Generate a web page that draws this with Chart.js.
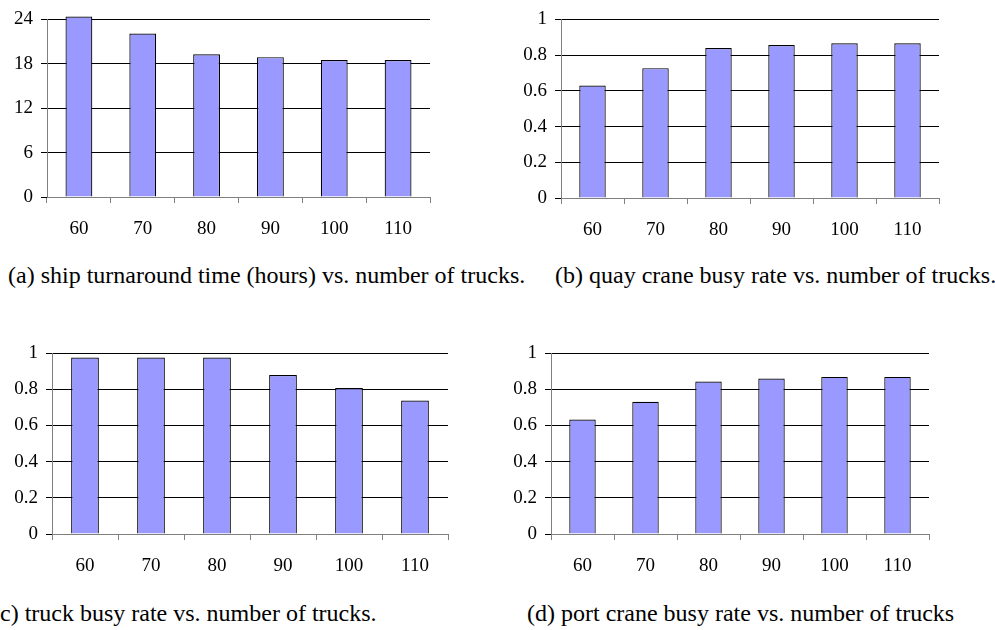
<!DOCTYPE html>
<html>
<head>
<meta charset="utf-8">
<script src="https://cdn.jsdelivr.net/npm/chart.js@4/dist/chart.umd.min.js"></script>
<style>
  body { margin: 0; background: #fff; width: 995px; height: 630px; overflow: hidden; position: relative; }
  canvas { position: absolute; }
  .cap { position: absolute; font-family: "Liberation Serif", "Times New Roman", serif; font-size: 24px; color: #000; white-space: nowrap; line-height: 24px; }
</style>
</head>
<body>
<canvas id="chartA" width="445" height="250" style="left:0;top:0"></canvas>
<canvas id="chartB" width="505" height="250" style="left:490px;top:0"></canvas>
<canvas id="chartC" width="460" height="260" style="left:0;top:330px"></canvas>
<canvas id="chartD" width="505" height="260" style="left:490px;top:330px"></canvas>

<div class="cap" style="left:8px;top:263px">(a) ship turnaround time (hours) vs. number of trucks.</div>
<div class="cap" style="left:555px;top:263px">(b) quay crane busy rate vs. number of trucks.</div>
<div class="cap" style="left:-8px;top:601px">(c) truck busy rate vs. number of trucks.</div>
<div class="cap" style="left:527px;top:601px">(d) port crane busy rate vs. number of trucks</div>

<script>
const trucks = ["60", "70", "80", "90", "100", "110"];
const turnaround = [24.4, 22.1, 19.3, 18.9, 18.5, 18.5];
const quayBusy = [0.63, 0.727, 0.84, 0.857, 0.866, 0.866];
const truckBusy = [0.975, 0.975, 0.975, 0.878, 0.807, 0.737];
const portBusy = [0.633, 0.73, 0.842, 0.859, 0.868, 0.868];

const hourTicks = [0, 6, 12, 18, 24];
const rateTicks = [0, 0.2, 0.4, 0.6, 0.8, 1];

const font = { family: "'Liberation Serif', 'Times New Roman', serif", size: 19 };

function makeChart(id, values, ticks, box) {
  new Chart(document.getElementById(id), {
    type: "bar",
    data: {
      labels: trucks,
      datasets: [{
        data: values,
        backgroundColor: "#9999ff",
        borderColor: "#000",
        borderWidth: 1.2,
        categoryPercentage: 1,
        barPercentage: 0.42,
        clip: false
      }]
    },
    options: {
      responsive: false,
      animation: false,
      layout: { padding: { left: 0, top: box.top, right: box.right, bottom: 0 } },
      plugins: { legend: { display: false }, tooltip: { enabled: false } },
      scales: {
        x: {
          grid: { drawOnChartArea: false, drawTicks: true, tickLength: 6, color: "#808080", offset: true },
          border: { color: "#808080" },
          ticks: { color: "#000", font: font, padding: 15, maxRotation: 0 },
          afterFit: s => { s.height = box.xh; }
        },
        y: {
          min: 0,
          max: ticks[ticks.length - 1],
          afterBuildTicks: s => { s.ticks = ticks.map(v => ({ value: v })); },
          grid: { color: "#000", tickLength: 6 },
          border: { color: "#808080" },
          ticks: { color: "#000", font: font, padding: 8, callback: v => String(v) },
          afterFit: s => { s.width = box.left; }
        }
      }
    }
  });
}

makeChart("chartA", turnaround, hourTicks, { left: 47, right: 15, top: 15, xh: 53 });
makeChart("chartB", quayBusy, rateTicks, { left: 71, right: 56, top: 16, xh: 52 });
makeChart("chartC", truckBusy, rateTicks, { left: 52, right: 12, top: 23, xh: 56 });
makeChart("chartD", portBusy, rateTicks, { left: 61, right: 66, top: 23, xh: 56 });
</script>
</body>
</html>
